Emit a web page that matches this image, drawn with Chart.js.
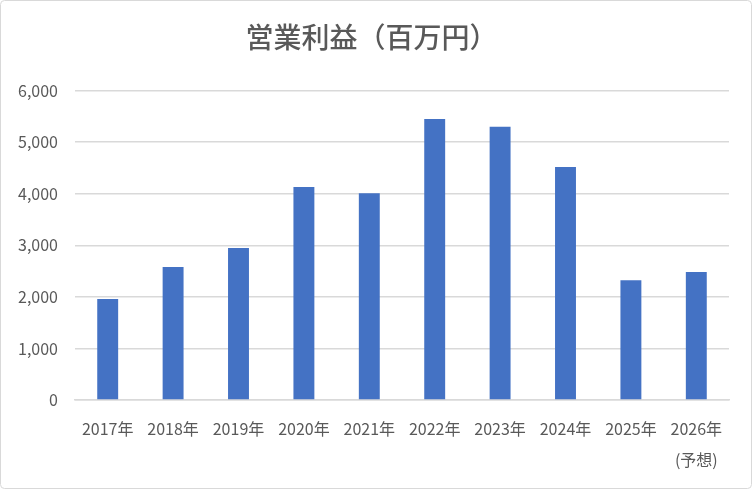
<!DOCTYPE html>
<html>
<head>
<meta charset="utf-8">
<script src="https://cdn.jsdelivr.net/npm/chart.js@4.4.1/dist/chart.umd.min.js"></script>
<style>
  html, body { margin: 0; padding: 0; background: #fff; }
  #wrap { width: 752px; height: 489px; position: relative; }
</style>
</head>
<body>
<div id="wrap"><canvas id="profitChart"></canvas></div>
<script>
  const years = ["2017年", "2018年", "2019年", "2020年", "2021年", "2022年", "2023年", "2024年", "2025年", ["2026年", "(予想)"]];
  const profit = [1960, 2580, 2950, 4130, 4010, 5450, 5300, 4520, 2320, 2480];
  const titleText = "営業利益（百万円）";

  const font = "'Noto Sans CJK JP', 'Noto Sans', sans-serif";
  const textColor = "#595959";
  const gridColor = "#d9d9d9";

  // chart area frame like the Excel one
  const frame = {
    id: "frame",
    afterDraw(chart) {
      const ctx = chart.ctx;
      ctx.save();
      ctx.strokeStyle = gridColor;
      ctx.lineWidth = 1;
      ctx.beginPath();
      ctx.roundRect(0.5, 0.5, chart.width - 1, chart.height - 1, 4);
      ctx.stroke();
      ctx.restore();
    },
  };

  new Chart(document.getElementById("profitChart"), {
    type: "bar",
    data: {
      labels: years,
      datasets: [
        {
          label: "営業利益",
          data: profit,
          backgroundColor: "#4472c4",
          categoryPercentage: 1,
          barPercentage: 0.32,
        },
      ],
    },
    options: {
      responsive: true,
      maintainAspectRatio: false,
      animation: false,
      layout: { padding: { left: 14, right: 23, top: 0, bottom: 0 } },
      plugins: {
        legend: { display: false },
        tooltip: { enabled: false },
        title: {
          display: true,
          text: titleText,
          color: textColor,
          font: { family: font, size: 28, weight: 500, lineHeight: 1.2 },
          padding: { top: 21, bottom: 36 },
        },
      },
      scales: {
        x: {
          grid: { display: false },
          border: { display: true, color: gridColor, width: 1.5 },
          ticks: {
            color: textColor,
            font: { family: font, size: 16, lineHeight: 1.95 },
            padding: 5,
            maxRotation: 0,
            autoSkip: false,
          },
          afterFit: function (scale) {
            scale.height = 89;
          },
        },
        y: {
          min: 0,
          max: 6000,
          border: { display: false },
          grid: { color: gridColor, lineWidth: 1.5, drawTicks: false },
          ticks: {
            stepSize: 1000,
            color: textColor,
            font: { family: font, size: 16 },
            padding: 17,
            callback: function (v) {
              return v.toLocaleString("en-US");
            },
          },
          afterFit: function (scale) {
            scale.width = 61;
          },
        },
      },
    },
    plugins: [frame],
  });
</script>
</body>
</html>
